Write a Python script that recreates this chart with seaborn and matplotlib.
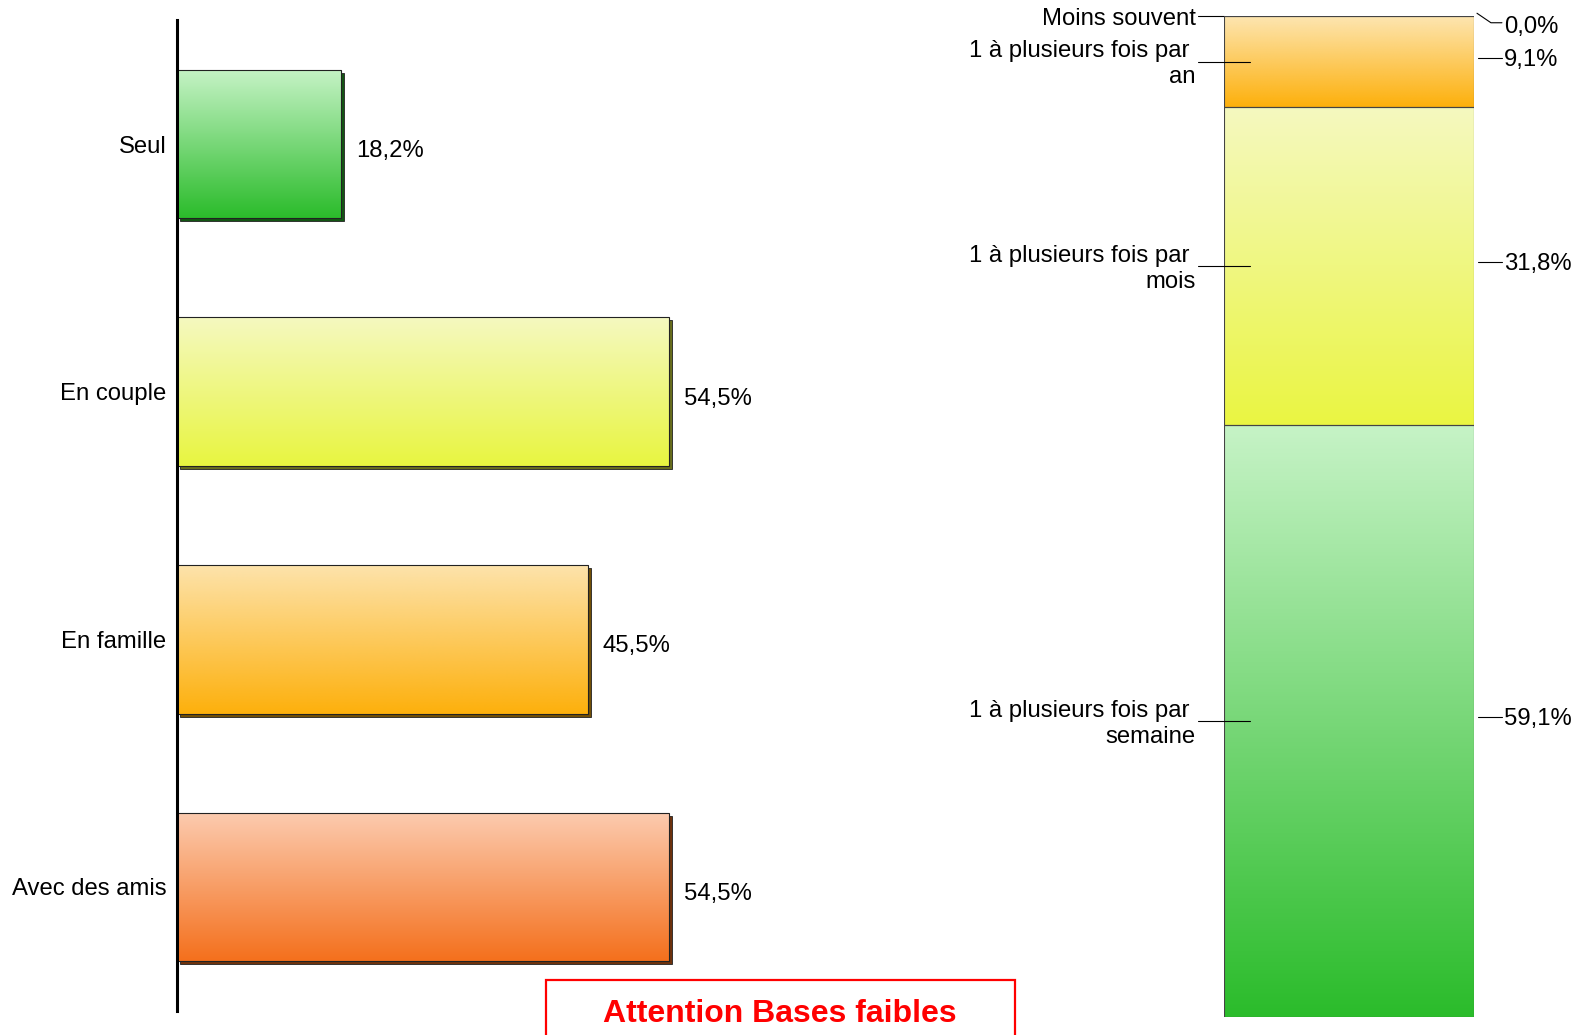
import numpy as np
import matplotlib
matplotlib.use("Agg")
import matplotlib.pyplot as plt
import matplotlib.transforms as mtransforms
from matplotlib.colors import to_rgb
from matplotlib.patches import Rectangle
import seaborn as sns

# left panel: with whom
categories = ["Seul", "En couple", "En famille", "Avec des amis"]
shares = [18.2, 54.5, 45.5, 54.5]
share_labels = ["18,2%", "54,5%", "45,5%", "54,5%"]
bar_top = ["#c6f3c6", "#f5f9c0", "#fde3ab", "#fccbb0"]
bar_bottom = ["#2bbc2b", "#e8f540", "#fdb00c", "#f4701c"]

# right panel: frequency (bottom to top)
freq_labels = ["1 à plusieurs fois par \nsemaine", "1 à plusieurs fois par \nmois",
               "1 à plusieurs fois par \nan", "Moins souvent"]
freq_values = [59.1, 31.8, 9.1, 0.0]
freq_pct = ["59,1%", "31,8%", "9,1%", "0,0%"]
freq_top = ["#c6f3c6", "#f5f9c0", "#fde6b2", "#fde6b2"]
freq_bottom = ["#2bbc2b", "#eaf542", "#fdb00c", "#fdb00c"]

sns.set_style("white")
plt.rcParams['font.family'] = ['Liberation Sans', 'DejaVu Sans']
plt.rcParams['text.color'] = 'black'
plt.rcParams['ytick.color'] = 'black'
plt.rcParams['ytick.labelcolor'] = 'black'
FS = 17.2


def gradient(ax, patch, c_top, c_bottom, flipped, zorder=2):
    x0, y0 = patch.get_x(), patch.get_y()
    w, h = patch.get_width(), patch.get_height()
    t = np.linspace(0, 1, 200)[:, None]
    img = ((1 - t) * np.array(to_rgb(c_top)) + t * np.array(to_rgb(c_bottom)))[:, None, :]
    if flipped:
        ext = (x0, x0 + w, y0 + h, y0)
    else:
        ext = (x0, x0 + w, y0, y0 + h)
    im = ax.imshow(img, extent=ext, origin="upper", aspect="auto", zorder=zorder,
                   interpolation="bilinear")
    im.set_clip_path(patch)


def shadow(ax, fig, patch, color):
    off = mtransforms.ScaledTranslation(0.03, -0.03, fig.dpi_scale_trans)
    r = Rectangle((patch.get_x(), patch.get_y()), patch.get_width(), patch.get_height(),
                  facecolor=color, edgecolor="#222222", lw=0.6,
                  transform=ax.transData + off, zorder=1.5)
    ax.add_patch(r)


fig = plt.figure(figsize=(15.85, 10.35), dpi=100)

# ---- left bars
ax1 = fig.add_axes([0.1116, 0.0234, 0.456, 0.9571])
sns.barplot(x=shares, y=categories, orient="y", width=0.6, color="white",
            errorbar=None, ax=ax1)
for i, p in enumerate(list(ax1.patches)):
    p.set_facecolor("none")
    p.set_edgecolor("#222222")
    p.set_linewidth(0.8)
    p.set_zorder(3)
    dark = tuple(np.array(to_rgb(bar_bottom[i])) * 0.45)
    shadow(ax1, fig, p, dark)
    gradient(ax1, p, bar_top[i], bar_bottom[i], flipped=True)
    ax1.annotate(share_labels[i], (shares[i], i), xytext=(10.5, -5),
                 textcoords="offset points", ha="left", va="center", fontsize=FS)

ax1.set_xlim(0, 80)
ax1.set_ylim(3.5, -0.5)
ax1.set_xlabel("")
ax1.set_ylabel("")
for s in ["top", "right", "bottom"]:
    ax1.spines[s].set_visible(False)
ax1.spines["left"].set_color("black")
ax1.spines["left"].set_linewidth(2.2)
ax1.spines["left"].set_zorder(10)
ax1.tick_params(left=False, bottom=False, labelbottom=False, labelsize=FS, pad=4)

# ---- right stacked bar
ax2 = fig.add_axes([0.7723, 0.0176, 0.1575, 0.9667])
bottoms = np.concatenate([[0], np.cumsum(freq_values)[:-1]])
for i, v in enumerate(freq_values):
    sns.barplot(x=[0], y=[v], bottom=bottoms[i], width=1.0, color="white",
                errorbar=None, ax=ax2)
for i, p in enumerate(list(ax2.patches)):
    p.set_facecolor("none")
    p.set_edgecolor("#444444")
    p.set_linewidth(0.8)
    p.set_zorder(3)
    if freq_values[i] > 0:
        gradient(ax2, p, freq_top[i], freq_bottom[i], flipped=False)

ax2.set_xlim(-0.5, 0.5)
ax2.set_ylim(0, 100)
ax2.axis("off")

for i, v in enumerate(freq_values):
    c = bottoms[i] + v / 2
    if v > 0:
        ax2.text(-0.613, c - 0.25, freq_labels[i], ha="right", va="center",
                 fontsize=FS, linespacing=1.25)
        ax2.plot([-0.605, -0.395], [c, c], color="black", lw=0.8, clip_on=False, zorder=5)
        ax2.plot([0.516, 0.613], [c + 0.4, c + 0.4], color="black", lw=0.8, clip_on=False)
        ax2.text(0.621, c + 0.2, freq_pct[i], ha="left", va="center", fontsize=FS)
    else:
        ax2.text(-0.613, 99.75, freq_labels[i], ha="right", va="center", fontsize=FS)
        ax2.plot([-0.605, -0.5], [100, 100], color="black", lw=0.8, clip_on=False)
        ax2.plot([0.513, 0.569, 0.613], [100.3, 99.35, 99.35], color="black", lw=0.8,
                 clip_on=False)
        ax2.text(0.621, 98.95, freq_pct[i], ha="left", va="center", fontsize=FS)

# ---- warning box
box = Rectangle((545.8 / 1585, -0.05), (1014.9 - 545.8) / 1585, 0.0536 + 0.05,
                transform=fig.transFigure, fill=False, edgecolor="#ff0000", lw=1.6)
fig.add_artist(box)
fig.text(0.4923, 0.0205, "Attention Bases faibles", ha="center", va="center",
         color="#ff0000", fontsize=23, fontweight="bold")

plt.savefig("out.png", dpi=100)
